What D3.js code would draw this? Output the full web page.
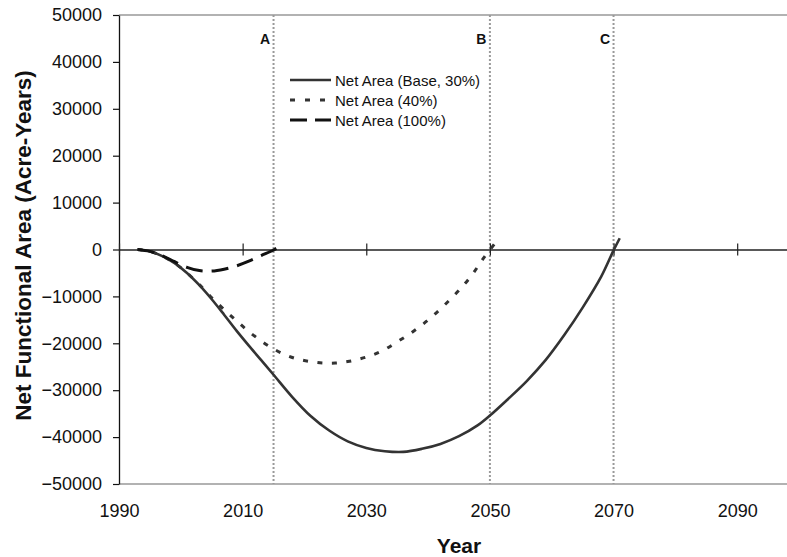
<!DOCTYPE html>
<html><head><meta charset="utf-8">
<script src="https://cdn.jsdelivr.net/npm/d3@7"></script>
<style>
body{margin:0;background:#fff}
svg{display:block;font-family:Arial,"Liberation Sans",sans-serif;background:#fff}
</style>
</head><body>
<svg id="chart" width="787" height="557"></svg>
<script>
// ---- data ----
const baseYears  = [1993,1995,1997,1999,2001,2003,2005,2007,2009,2011,2013,2015,2018,2021,2024,2027,2030,2033,2036,2039,2042,2045,2048,2050,2053,2056,2059,2062,2065,2068,2070,2071];
const baseValues = [0,-400,-1400,-2900,-5000,-7600,-10600,-13900,-17300,-20500,-23600,-26700,-31400,-35500,-38600,-40900,-42300,-43000,-43150,-42500,-41450,-39800,-37500,-35400,-31800,-28000,-23600,-18300,-12400,-5800,-200,2400];

const pct40Years  = [1993,1995,1997,1999,2001,2003,2005,2007,2009,2011,2013,2015,2017,2019,2021,2023,2025,2027,2029,2031,2033,2035,2037,2039,2041,2043,2045,2047,2049,2051];
const pct40Values = [0,-400,-1400,-2900,-5000,-7500,-10300,-12800,-15200,-17500,-19500,-21200,-22500,-23400,-23900,-24200,-24200,-23900,-23300,-22500,-21300,-19700,-18000,-16100,-13900,-11400,-8700,-5600,-1800,1600];

const pct100Years  = [1993,1995,1997,1999,2001,2003,2005,2007,2009,2011,2013,2015,2016];
const pct100Values = [0,-400,-1300,-2600,-3800,-4500,-4600,-4200,-3500,-2500,-1300,-100,700];

const seriesNames = ["Net Area (Base, 30%)","Net Area (40%)","Net Area (100%)"];

const markerYears  = [2015, 2050, 2070];
const markerLabels = ["A","B","C"];

const xTickValues = [1990,2010,2030,2050,2070,2090];
const yTickValues = [-50000,-40000,-30000,-20000,-10000,0,10000,20000,30000,40000,50000];

const xTitle = "Year";
const yTitle = "Net Functional Area (Acre-Years)";

// ---- layout ----
const svg = d3.select("#chart");
const pL = 119, pR = 799, pT = 15, pB = 484;
const x = d3.scaleLinear().domain([1990, 2100]).range([pL, pR]);
const y = d3.scaleLinear().domain([-50000, 50000]).range([pB, pT]);

// plot border top & bottom
svg.append("line").attr("x1", pL).attr("x2", 787).attr("y1", pT).attr("y2", pT)
  .attr("stroke", "#999").attr("stroke-width", 1.3);
svg.append("line").attr("x1", pL).attr("x2", 787).attr("y1", pB).attr("y2", pB)
  .attr("stroke", "#999").attr("stroke-width", 1.3);

// vertical marker lines
markerYears.forEach((yr, i) => {
  svg.append("line").attr("x1", x(yr)).attr("x2", x(yr)).attr("y1", pT).attr("y2", pB)
    .attr("stroke", "#9a9a9a").attr("stroke-width", 2).attr("stroke-dasharray", "2,2");
  svg.append("text").attr("x", x(yr) - 3.5).attr("y", 44)
    .attr("text-anchor", "end").attr("font-size", 14).attr("font-weight", "bold")
    .attr("fill", "#111").text(markerLabels[i]);
});

// y axis
const yAxis = svg.append("g").attr("transform", `translate(${pL},0)`)
  .call(d3.axisLeft(y).tickValues(yTickValues).tickFormat(d3.format("d"))
    .tickSize(6).tickSizeOuter(0).tickPadding(11));
yAxis.select(".domain").attr("stroke", "#111").attr("stroke-width", 1.3);
yAxis.selectAll(".tick line").attr("stroke", "#111").attr("stroke-width", 1.2);
yAxis.selectAll(".tick text").attr("font-size", 18).attr("fill", "#111")
  .attr("font-family", "Arial, 'Liberation Sans', sans-serif");

// x axis (zero line with crossing ticks)
const xAxis = svg.append("g").attr("transform", `translate(0,${y(0)})`)
  .call(d3.axisBottom(x).tickValues(xTickValues).tickFormat("").tickSize(6).tickSizeOuter(0));
xAxis.select(".domain").attr("stroke", "#222").attr("stroke-width", 1.4);
xAxis.selectAll(".tick line").attr("y1", -6).attr("y2", 6).attr("stroke", "#222").attr("stroke-width", 1.2);

// x tick labels at bottom
const xLab = svg.append("g").attr("transform", `translate(0,${pB})`)
  .call(d3.axisBottom(x).tickValues(xTickValues).tickFormat(d3.format("d")).tickSize(0).tickPadding(20));
xLab.select(".domain").remove();
xLab.selectAll(".tick text").attr("font-size", 18).attr("fill", "#111")
  .attr("font-family", "Arial, 'Liberation Sans', sans-serif");

// titles
svg.append("text").attr("x", (pL + pR) / 2).attr("y", 553)
  .attr("text-anchor", "middle").attr("font-size", 21).attr("font-weight", "bold")
  .attr("fill", "#111").text(xTitle);
svg.append("text").attr("transform", `translate(31,${(pT + pB) / 2 - 4}) rotate(-90)`)
  .attr("text-anchor", "middle").attr("font-size", 22.5).attr("font-weight", "bold")
  .attr("fill", "#111").text(yTitle);

// series
const line = d3.line().x(d => x(d[0])).y(d => y(d[1])).curve(d3.curveCatmullRom.alpha(0.5));
const styles = [
  {stroke: "#333", width: 2.6, dash: null},
  {stroke: "#333", width: 3, dash: "5,9.5"},
  {stroke: "#111", width: 3, dash: "17,9"}
];
const seriesData = [
  d3.zip(baseYears, baseValues),
  d3.zip(pct40Years, pct40Values),
  d3.zip(pct100Years, pct100Values)
];
seriesData.forEach((data, i) => {
  svg.append("path").datum(data).attr("d", line).attr("fill", "none")
    .attr("stroke", styles[i].stroke).attr("stroke-width", styles[i].width)
    .attr("stroke-dasharray", styles[i].dash);
});

// legend
const legendDash = [null, "5,10", "17,8"];
seriesNames.forEach((name, i) => {
  const ly = 80 + i * 20;
  svg.append("line").attr("x1", 290).attr("x2", 331).attr("y1", ly).attr("y2", ly)
    .attr("stroke", styles[i].stroke).attr("stroke-width", styles[i].width)
    .attr("stroke-dasharray", legendDash[i]);
  svg.append("text").attr("x", 335).attr("y", ly + 5.5).attr("font-size", 15)
    .attr("fill", "#111").text(name);
});
</script>
</body></html>
